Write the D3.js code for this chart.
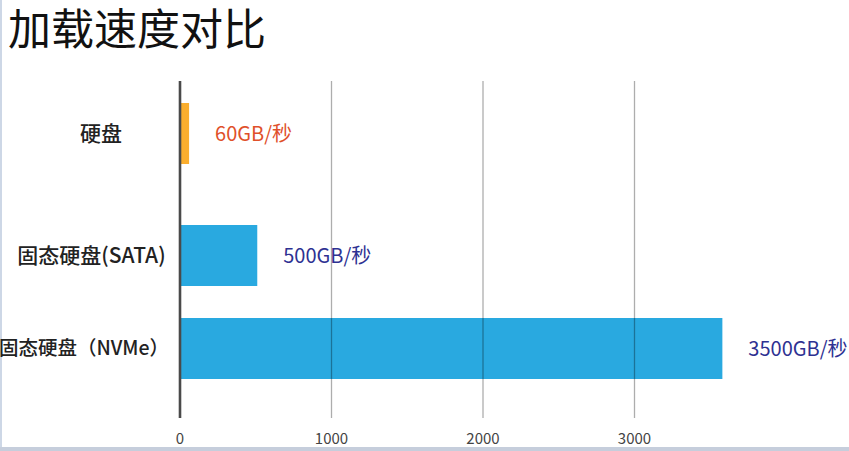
<!DOCTYPE html>
<html>
<head>
<meta charset="utf-8">
<script src="https://cdn.jsdelivr.net/npm/d3@7"></script>
<style>
  html, body { margin: 0; padding: 0; background: #fff; }
  svg { display: block; }
  text { font-family: "Noto Sans CJK SC", "Noto Sans", sans-serif; }
</style>
</head>
<body>
<svg id="chart" width="849" height="451"></svg>
<script>
// ---- data ----
const title = "加载速度对比";
const categories = ["硬盘", "固态硬盘(SATA)", "固态硬盘（NVMe）"];
const barValues = [60, 510, 3580];
const valueLabels = ["60GB/秒", "500GB/秒", "3500GB/秒"];
const tickValues = [0, 1000, 2000, 3000];

// ---- layout ----
const W = 849, H = 451;
const svg = d3.select("#chart");

const x = d3.scaleLinear().domain([0, 3600]).range([180, 180 + 3.6 * 151.5]);
const y = d3.scaleOrdinal().domain(categories).range([133.5, 255.5, 348.5]);
const barH = 61;
const barColor = d3.scaleOrdinal().domain(categories).range(["#FBAE2D", "#29A9E0", "#29A9E0"]);
const labelColor = d3.scaleOrdinal().domain(categories).range(["#E0502A", "#2E3192", "#2E3192"]);
const catX = d3.scaleOrdinal().domain(categories).range([101, 91.5, 84]);
const catSize = d3.scaleOrdinal().domain(categories).range([21, 21, 19.5]);

// frame borders
svg.append("rect").attr("x", 0).attr("y", 0).attr("width", 2).attr("height", H).attr("fill", "#cdd7e6");
svg.append("rect").attr("x", 0).attr("y", 447).attr("width", W).attr("height", 4).attr("fill", "#c6cedc");

// title
svg.append("text")
  .attr("x", 8).attr("y", 26)
  .attr("dominant-baseline", "central")
  .attr("font-size", 43)
  .attr("fill", "#111")
  .text(title);

// bars
svg.append("g").selectAll("rect")
  .data(categories)
  .join("rect")
  .attr("x", x(0) + 1)
  .attr("y", d => y(d) - barH / 2)
  .attr("width", (d, i) => x(barValues[i]) - x(0) - 1)
  .attr("height", barH)
  .attr("fill", d => barColor(d));

// grid lines (over bars)
const gridTop = 81, gridBottom = 418;
svg.append("g").selectAll("line")
  .data(tickValues.filter(t => t > 0))
  .join("line")
  .attr("x1", d => x(d)).attr("x2", d => x(d))
  .attr("y1", gridTop).attr("y2", gridBottom)
  .attr("stroke", "rgba(0,0,0,0.32)")
  .attr("stroke-width", 1.3);

// zero line
svg.append("line")
  .attr("x1", x(0)).attr("x2", x(0))
  .attr("y1", gridTop).attr("y2", gridBottom)
  .attr("stroke", "#4a4a4a")
  .attr("stroke-width", 2.6);

// tick labels
svg.append("g").selectAll("text")
  .data(tickValues)
  .join("text")
  .attr("x", d => x(d))
  .attr("y", 437)
  .attr("text-anchor", "middle")
  .attr("dominant-baseline", "central")
  .attr("font-size", 15)
  .attr("fill", "#444")
  .text(d => d);

// category labels
svg.append("g").selectAll("text")
  .data(categories)
  .join("text")
  .attr("x", d => catX(d))
  .attr("y", d => y(d) - 2)
  .attr("text-anchor", "middle")
  .attr("dominant-baseline", "central")
  .attr("font-size", d => catSize(d))
  .attr("font-weight", 500)
  .attr("fill", "#222")
  .text(d => d);

// value labels
svg.append("g").selectAll("text")
  .data(categories)
  .join("text")
  .attr("x", (d, i) => x(barValues[i]) + 26)
  .attr("y", d => y(d) - 1)
  .attr("dominant-baseline", "central")
  .attr("font-size", 20)
  .attr("fill", d => labelColor(d))
  .text((d, i) => valueLabels[i]);
</script>
</body>
</html>
